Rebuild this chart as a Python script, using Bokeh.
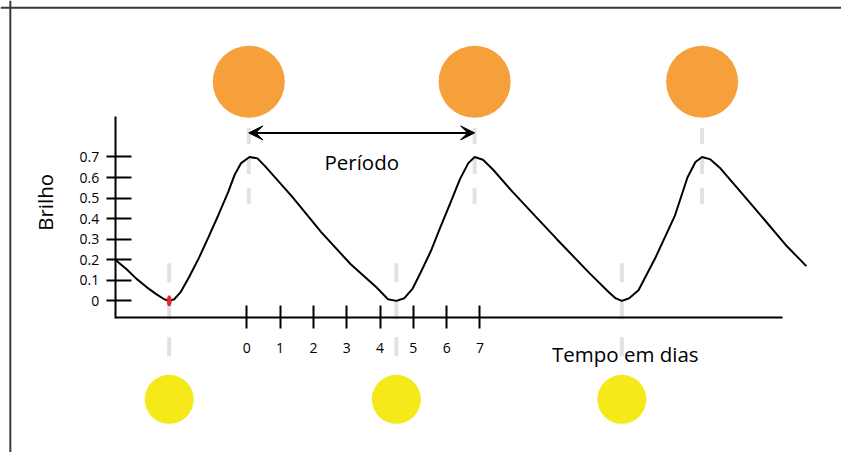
import numpy as np
from bokeh.plotting import figure
from bokeh.models import Range1d, LinearAxis, FixedTicker, Span, Label, Arrow, VeeHead
from bokeh.embed import file_html
from bokeh.resources import INLINE

# ---- data ----
days = [-3.95, -3.60, -3.31, -3.01, -2.72, -2.48, -2.33, -2.18, -1.98, -1.74, -1.44,
        -1.15, -0.85, -0.56, -0.36, -0.17, 0.08, 0.32, 0.56, 1.36, 2.24, 3.12, 3.89,
        4.24, 4.49, 4.73, 4.98, 5.22, 5.52, 5.81, 6.11, 6.40, 6.65, 6.84, 7.09, 7.39,
        7.98, 8.66, 9.31, 10.28, 10.87, 11.08, 11.26, 11.48, 11.76, 12.26, 12.85, 13.23,
        13.47, 13.67, 13.92, 14.20, 15.20, 16.18, 16.80]
brightness = [0.20, 0.153, 0.107, 0.067, 0.033, 0.008, 0.0, 0.008, 0.044, 0.114, 0.208,
              0.310, 0.419, 0.529, 0.615, 0.670, 0.70, 0.693, 0.653, 0.507, 0.333, 0.178, 0.066,
              0.008, 0.0, 0.013, 0.06, 0.138, 0.240, 0.357, 0.475, 0.592, 0.670, 0.70, 0.686, 0.639,
              0.530, 0.412, 0.30, 0.136, 0.042, 0.012, 0.0, 0.013, 0.052, 0.207, 0.413, 0.60,
              0.675, 0.70, 0.688, 0.648, 0.46, 0.272, 0.169]

x_ticks = [0, 1, 2, 3, 4, 5, 6, 7]
x_tick_labels = ["0", "1", "2", "3", "4", "5", "6", "7"]
y_ticks = [0, 0.1, 0.2, 0.3, 0.4, 0.5, 0.6, 0.7]
y_tick_labels = ["0", "0.1", "0.2", "0.3", "0.4", "0.5", "0.6", "0.7"]

peak_days = [0.06, 6.84, 13.67]      # orange (large star) positions
min_days = [-2.33, 4.49, 11.26]      # yellow (small star) positions

x_title = "Tempo em dias"
y_title = "Brilho"
period_label = "Período"

FONT = "Open Sans"

# ---- figure ----
p = figure(width=841, height=452, x_range=Range1d(-7.395, 17.855), y_range=Range1d(-0.7374, 1.4608),
           output_backend="svg", toolbar_location=None,
           x_axis_location=None, y_axis_location=None, min_border=0)
p.outline_line_color = None
p.grid.visible = False
p.background_fill_color = "white"
p.border_fill_color = "white"

# frame lines (top and left)
p.add_layout(Span(location=-7.10, dimension="height", line_color="#3a3a3a", line_width=2))
p.add_layout(Span(location=1.4258, dimension="width", line_color="#3a3a3a", line_width=2))

# dashed guide lines
p.segment(x0=peak_days, y0=[0.841] * 3, x1=peak_days, y1=[0.465] * 3,
          line_color="#E2E2E2", line_width=4, line_dash="16 14")
p.segment(x0=min_days, y0=[0.183] * 3, x1=min_days, y1=[-0.287] * 3,
          line_color="#E2E2E2", line_width=4, line_dash="19 18")

# circles
p.scatter(x=peak_days, y=[1.066] * 3, size=72, fill_color="#F6A03C", line_color=None)
p.scatter(x=min_days, y=[-0.479] * 3, size=49, fill_color="#F5E91A", line_color=None)

# light curve
p.line(days, brightness, line_color="black", line_width=2)

# red marker at first minimum
p.ellipse(x=[min_days[0]], y=[brightness[days.index(min_days[0])]], width=5, height=11,
          width_units="screen", height_units="screen", fill_color="#E8262A", line_color=None)

# period arrow
p.add_layout(Arrow(x_start=peak_days[0], y_start=0.817, x_end=peak_days[1], y_end=0.817,
                   line_color="black", line_width=2,
                   start=VeeHead(size=14, fill_color="black", line_color="black", line_width=1),
                   end=VeeHead(size=14, fill_color="black", line_color="black", line_width=1)))

# axes
yaxis = LinearAxis(fixed_location=-3.948, bounds=(-0.085, 0.897),
                   ticker=FixedTicker(ticks=y_ticks),
                   major_label_overrides=dict(zip(y_ticks, y_tick_labels)),
                   major_tick_in=16, major_tick_out=9, minor_tick_line_color=None,
                   axis_line_width=2, major_tick_line_width=2,
                   axis_line_color="black", major_tick_line_color="black",
                   major_label_text_font=FONT, major_label_text_font_size="14px",
                   major_label_text_color="black", major_label_standoff=7)
p.add_layout(yaxis, "left")

xaxis = LinearAxis(fixed_location=-0.0822, bounds=(-3.948, 16.09),
                   ticker=FixedTicker(ticks=x_ticks),
                   major_label_overrides=dict(zip(x_ticks, x_tick_labels)),
                   major_tick_in=12, major_tick_out=11, minor_tick_line_color=None,
                   axis_line_width=2, major_tick_line_width=2,
                   axis_line_color="black", major_tick_line_color="black",
                   major_label_text_font=FONT, major_label_text_font_size="14px",
                   major_label_text_color="black", major_label_standoff=14)
p.add_layout(xaxis, "below")

# texts
p.add_layout(Label(x=-6.07, y=0.479, text=y_title, angle=np.pi / 2, text_align="center",
                   text_baseline="middle", text_font=FONT, text_font_size="20.5px",
                   text_color="black"))
p.add_layout(Label(x=3.45, y=0.676, text=period_label, text_align="center",
                   text_baseline="alphabetic", text_font=FONT, text_font_size="20.5px",
                   text_color="black"))
p.add_layout(Label(x=9.16, y=-0.258, text=x_title, text_align="left",
                   text_baseline="alphabetic", text_font=FONT, text_font_size="20.5px",
                   text_color="black"))

open("out.html", "w").write(file_html(p, INLINE))
